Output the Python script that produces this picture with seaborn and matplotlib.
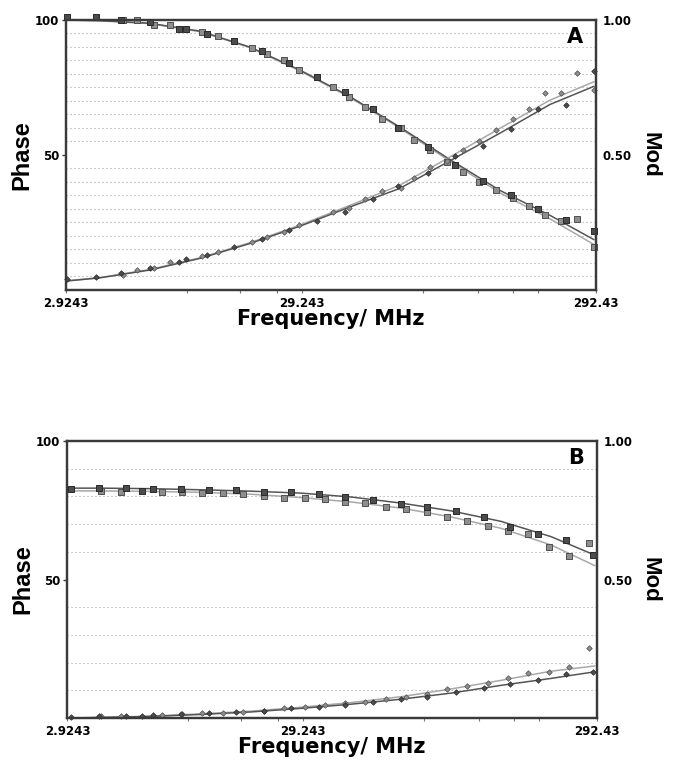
import numpy as np
import pandas as pd
import matplotlib
matplotlib.use("Agg")
import matplotlib.pyplot as plt
import seaborn as sns
from matplotlib.ticker import FixedLocator, NullFormatter

# ---------------- data ----------------
# Panel A
freq_A_dark = [2.958, 3.786, 4.704, 6.068, 7.807, 8.275, 9.930, 12.59, 16.02, 20.35, 25.82,
               33.02, 42.02, 52.48, 67.77, 85.90, 109.3, 139.7, 177.1, 224.7, 287.4]
sq_A_dark = [101, 101, 99.7, 99.0, 96.5, 96.5, 94.7, 92.0, 88.2, 84.0, 78.6,
             73.1, 66.9, 60.0, 53.0, 46.2, 40.4, 35.1, 29.8, 25.9, 21.9]
dia_A_dark = [4.0, 4.7, 6.4, 8.0, 10.2, 11.3, 12.9, 16.0, 18.7, 22.2, 25.6,
              28.7, 33.5, 38.5, 43.1, 49.5, 53.3, 59.7, 66.9, 68.4, 80.9]

freq_A_light = [4.812, 5.433, 6.282, 7.221, 9.537, 10.98, 14.68, 16.82, 19.44, 22.20, 29.68,
                34.19, 39.30, 45.56, 53.58, 60.31, 69.31, 79.94, 92.31, 105.8, 122.7, 141.8,
                163.4, 187.3, 215.1, 248.6, 287.4]
sq_A_light = [99.7, 99.7, 98.0, 98.0, 95.5, 93.8, 89.3, 87.4, 85.0, 81.5, 75.0,
              71.2, 67.5, 63.2, 60.0, 55.4, 51.7, 47.4, 43.5, 40.0, 36.9, 34.2,
              31.0, 27.7, 25.6, 26.1, 15.8]
dia_A_light = [5.5, 7.4, 8.2, 10.5, 12.6, 14.1, 17.8, 19.5, 21.3, 24.0, 28.9,
               30.5, 33.6, 36.6, 37.8, 41.5, 45.3, 47.8, 51.7, 55.2, 59.1, 63.1,
               66.8, 72.7, 72.7, 80.1, 73.9]

# Panel B
freq_B_dark = [3.007, 3.845, 4.863, 5.572, 6.164, 7.841, 10.00, 12.72, 16.13, 20.39, 26.01,
               32.80, 41.69, 53.03, 66.88, 85.51, 109.1, 137.9, 175.9, 223.7, 283.7]
sq_B_dark = [82.6, 83.2, 83.2, 82.1, 82.7, 82.7, 82.3, 82.3, 81.5, 81.5, 80.8,
             79.8, 78.7, 77.3, 76.1, 74.7, 72.5, 69.1, 66.5, 64.3, 58.8]
dia_B_dark = [0.3, 0.7, 0.7, 0.7, 1.1, 1.4, 1.7, 2.3, 2.5, 3.5, 4.1,
              4.7, 5.7, 6.8, 7.7, 9.3, 11.0, 12.3, 13.7, 15.8, 16.7]

freq_B_light = [3.903, 4.655, 6.665, 7.931, 9.465, 11.32, 13.47, 16.13, 19.24, 23.03, 27.40,
                32.80, 39.03, 46.55, 55.72, 66.65, 79.31, 94.65, 113.2, 134.7, 161.3, 192.4,
                228.8, 274.0]
sq_B_light = [82.0, 81.6, 81.6, 81.6, 81.3, 81.3, 81.0, 80.2, 79.3, 79.3, 79.1,
              78.1, 77.7, 76.3, 75.6, 74.4, 72.7, 71.2, 69.3, 67.6, 66.3, 61.7,
              58.6, 63.3]
dia_B_light = [0.7, 0.7, 1.1, 1.4, 1.7, 1.9, 2.3, 2.6, 3.5, 4.1, 4.6,
               5.3, 5.7, 6.8, 7.7, 8.7, 10.4, 11.6, 12.8, 14.3, 16.1, 16.7,
               18.3, 25.2]

# Fitted curves
fit_freq = [2.9243, 3.930, 6.068, 9.369, 14.47, 22.34, 34.49, 53.26, 82.26, 127.0, 196.1, 287.4]
fit_A_sq_dark = [99.8, 99.6, 98.6, 95.7, 89.8, 81.3, 71.5, 60.2, 48.2, 36.8, 27.6, 18.6]
fit_A_sq_light = [99.8, 99.5, 98.5, 95.5, 89.6, 81.0, 71.2, 59.8, 47.6, 35.9, 26.3, 16.8]
fit_A_dia_dark = [3.3, 4.5, 7.4, 11.7, 17.2, 23.6, 30.7, 37.6, 47.8, 58.0, 68.6, 75.3]
fit_A_dia_light = [3.4, 4.6, 7.6, 11.9, 17.5, 24.0, 31.3, 38.8, 49.2, 59.8, 70.2, 77.0]
fit_B_sq_dark = [83.0, 83.0, 82.8, 82.4, 81.9, 81.2, 79.8, 77.6, 74.8, 71.0, 65.5, 58.8]
fit_B_sq_light = [82.0, 82.0, 81.8, 81.5, 80.8, 79.6, 78.0, 75.8, 72.6, 68.5, 62.5, 55.0]
fit_B_dia_dark = [0.0, 0.2, 0.6, 1.3, 2.2, 3.5, 5.0, 6.8, 9.0, 11.8, 14.3, 16.7]
fit_B_dia_light = [0.0, 0.2, 0.7, 1.5, 2.5, 3.9, 5.6, 7.7, 10.5, 13.6, 16.9, 18.8]

x_tick_labels = ["2.9243", "29.243", "292.43"]
phase_tick_labels = ["50", "100"]
mod_tick_labels = ["0.50", "1.00"]

# ---------------- styling ----------------
sns.set_theme(style="white")
plt.rcParams['font.family'] = ['DejaVu Sans']
plt.rcParams['font.weight'] = 'bold'
for key in ['text.color', 'axes.labelcolor', 'xtick.labelcolor', 'ytick.labelcolor']:
    plt.rcParams[key] = 'black'
WIDE = ['DejaVu Sans']
ARIAL = ['Liberation Sans', 'DejaVu Sans']

FMIN, FMAX = 2.9243, 292.43
x_major = [2.9243, 22.73, 292.43]
x_minor = [8.368, 13.26, 18.29, 65.07, 104.9, 142.2, 176.6]

C_DARK_FILL, C_DARK_EDGE = "#4c4c4c", "#2a2a2a"
C_LIGHT_FILL, C_LIGHT_EDGE = "#8e8e8e", "#505050"
L_DARK, L_LIGHT = "#555555", "#a8a8a8"
SPINE = "#3a3a3a"

fig = plt.figure(figsize=(6.74, 7.62), dpi=100)


def draw_panel(rect, letter, letter_xy, grid_step, dark, light, fits):
    ax = fig.add_axes(rect)
    ax.set_xscale("log")
    # fitted curves
    for vals, col in fits:
        sns.lineplot(x=fit_freq, y=vals, ax=ax, color=col, lw=1.1, sort=False,
                     estimator=None, legend=False, zorder=2)
    # data points
    for (fq, sq, dia), fill, edge in [(light, C_LIGHT_FILL, C_LIGHT_EDGE),
                                      (dark, C_DARK_FILL, C_DARK_EDGE)]:
        sns.scatterplot(x=fq, y=sq, ax=ax, marker="s", s=15, color=fill,
                        edgecolor=edge, linewidth=0.7, zorder=4, clip_on=False, legend=False)
        sns.scatterplot(x=fq, y=dia, ax=ax, marker="D", s=8, color=fill,
                        edgecolor=edge, linewidth=0.5, zorder=4, clip_on=False, legend=False)
    ax.set_xlim(FMIN, FMAX)
    ax.set_ylim(0, 100)

    # gridlines
    ax.yaxis.set_major_locator(FixedLocator([50, 100]))
    ax.set_yticklabels(phase_tick_labels)
    grid_vals = [v for v in np.arange(grid_step, 100, grid_step)]
    ax.yaxis.set_minor_locator(FixedLocator(grid_vals))
    ax.grid(False)
    ax.grid(axis="y", which="minor", ls=(0, (1.0, 2.6)), color="#a6a6a6", lw=0.8)
    ax.tick_params(axis="y", which="minor", length=0)
    ax.tick_params(axis="y", which="major", length=3, width=1, color=SPINE,
                   labelsize=8.5, pad=2, left=True, labelcolor="black")

    ax.xaxis.set_major_locator(FixedLocator(x_major))
    ax.set_xticklabels(x_tick_labels)
    ax.xaxis.set_minor_locator(FixedLocator(x_minor))
    ax.xaxis.set_minor_formatter(NullFormatter())
    ax.tick_params(axis="x", which="both", bottom=True, length=2.5, width=0.8,
                   color="#777777", labelsize=8.5, pad=2.5, labelcolor="black")
    for lab in ax.get_xticklabels() + ax.get_yticklabels():
        lab.set_fontweight("bold")

    for sp in ax.spines.values():
        sp.set_color(SPINE)
        sp.set_linewidth(1.6)
        sp.set_visible(True)

    ax.set_ylabel("Phase", fontsize=17, fontweight="bold", labelpad=1, family=ARIAL,
                  color="black")
    ax.set_xlabel("Frequency/ MHz", fontsize=15, fontweight="bold", labelpad=-1,
                  family=WIDE, color="black")

    ax2 = ax.twinx()
    ax2.set_ylim(0, 1)
    ax2.yaxis.set_major_locator(FixedLocator([0.5, 1.0]))
    ax2.set_yticklabels(mod_tick_labels)
    ax2.tick_params(axis="y", length=0, labelsize=8.5, pad=5, labelcolor="black")
    for lab in ax2.get_yticklabels():
        lab.set_fontweight("bold")
    ax2.grid(False)
    for sp in ax2.spines.values():
        sp.set_color(SPINE)
        sp.set_linewidth(1.6)
    ax2.set_ylabel("Mod", fontsize=16, fontweight="bold", rotation=270,
                   labelpad=5, va="bottom", family=ARIAL, color="black")

    ax.text(letter_xy[0], letter_xy[1], letter, transform=ax.transAxes, ha="center",
            va="center", fontsize=15, fontweight="bold", color="black", family=WIDE)
    return ax


draw_panel([0.0979, 0.6194, 0.7864, 0.3550], "A", (0.960, 0.935), 5,
           (freq_A_dark, sq_A_dark, dia_A_dark),
           (freq_A_light, sq_A_light, dia_A_light),
           [(fit_A_sq_light, L_LIGHT), (fit_A_sq_dark, L_DARK),
            (fit_A_dia_light, L_LIGHT), (fit_A_dia_dark, L_DARK)])

draw_panel([0.1001, 0.0577, 0.7855, 0.3635], "B", (0.961, 0.939), 10,
           (freq_B_dark, sq_B_dark, dia_B_dark),
           (freq_B_light, sq_B_light, dia_B_light),
           [(fit_B_sq_light, L_LIGHT), (fit_B_sq_dark, L_DARK),
            (fit_B_dia_light, L_LIGHT), (fit_B_dia_dark, L_DARK)])

fig.savefig("out.png", dpi=100, facecolor="white")
